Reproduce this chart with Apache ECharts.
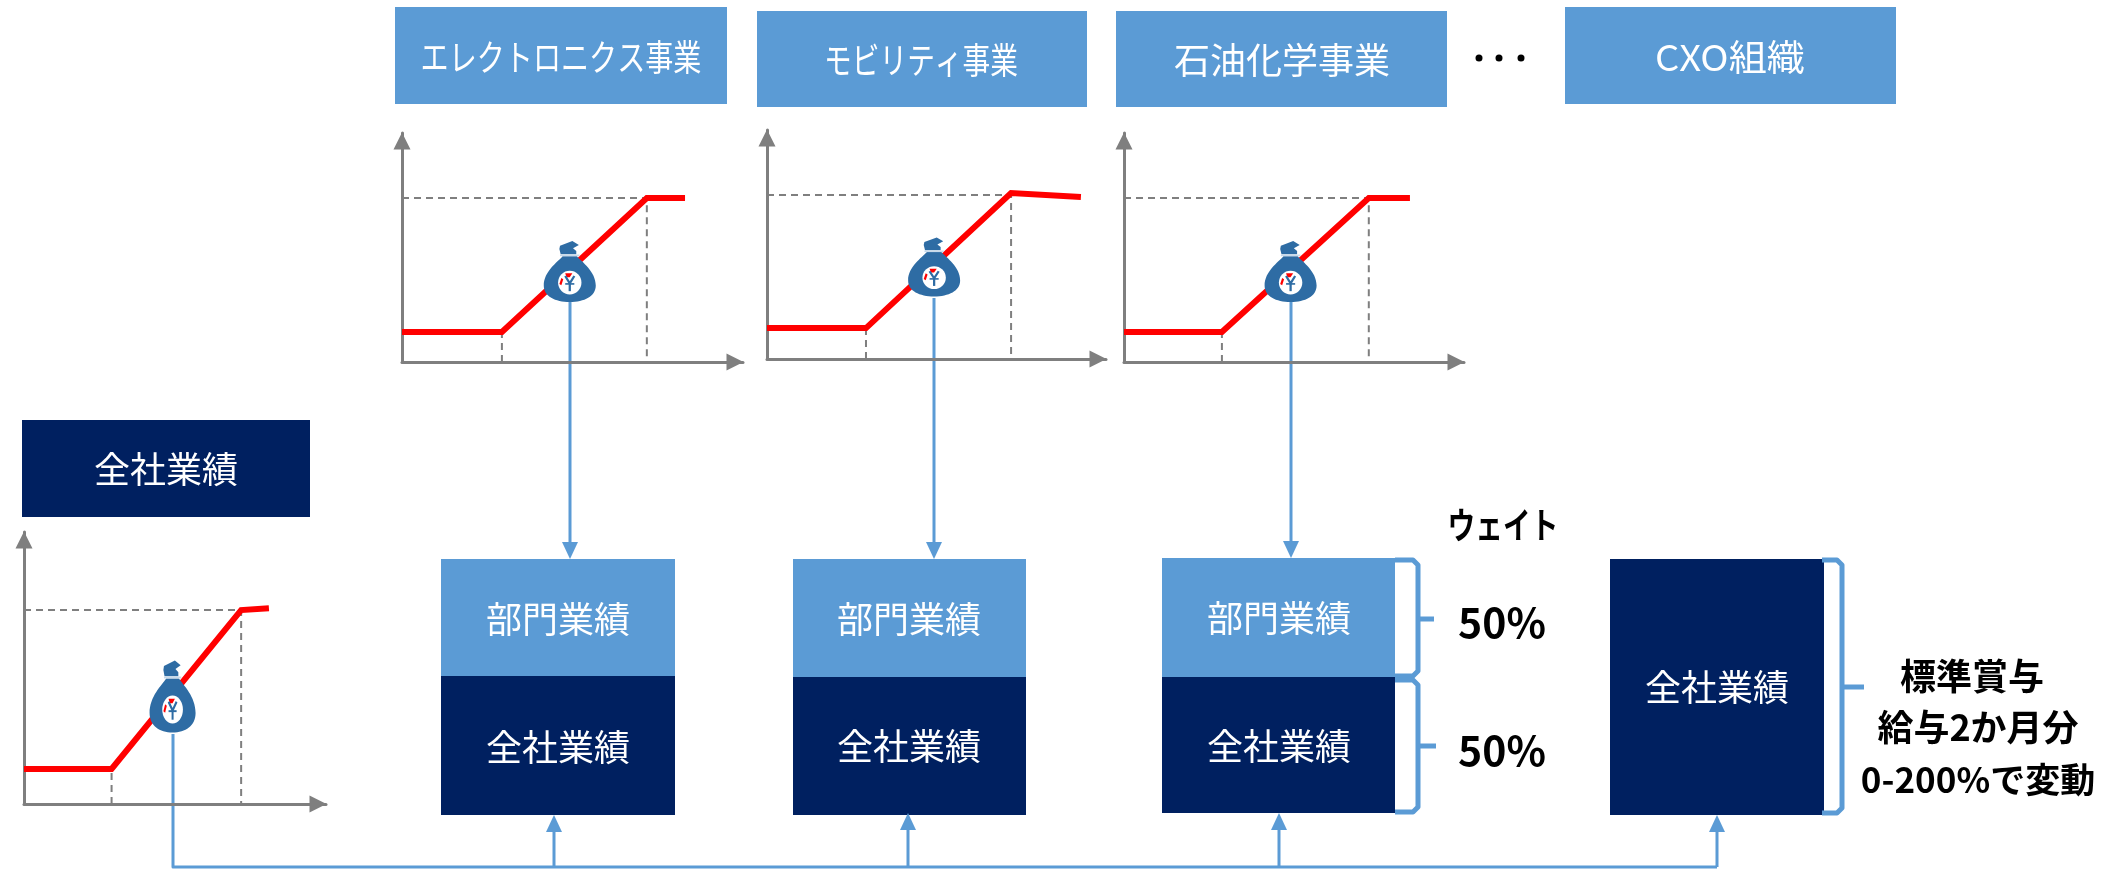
<!DOCTYPE html>
<html lang="ja">
<head>
<meta charset="utf-8">
<title>賞与決定の仕組み</title>
<style>
  html, body { margin: 0; padding: 0; background: #ffffff; }
  #chart { width: 2118px; height: 869px; }
</style>
<script src="https://cdn.jsdelivr.net/npm/echarts@6/dist/echarts.min.js"></script>
</head>
<body>
<div id="chart"></div>
<script>
// Payout curves: [performance, payout], both on a 0-100 relative scale.
const electronicsCurve = [[0, 13.1], [29.3, 13.1], [71.8, 71.6], [83.0, 71.6]];
const mobilityCurve    = [[0, 13.5], [29.2, 13.5], [72.0, 72.5], [92.6, 70.7]];
const chemicalsCurve   = [[0, 13.1], [28.8, 13.1], [72.0, 71.6], [84.1, 71.6]];
const companyCurve     = [[0, 12.9], [29.0, 12.9], [71.9, 71.3], [81.1, 72.0]];

// Target payout level of each curve, drawn as the dashed guide.
const targetLevels = [71.6, 71.6, 71.6, 71.3];

// Where the money bag sits on each curve.
const bagPoints = [[49.2, 39.5], [49.3, 40.2], [49.0, 39.5], [49.2, 39.5]];

// Labels
const divisionLabels = ['エレクトロニクス事業', 'モビリティ事業', '石油化学事業', 'CXO組織'];
const companyLabel = '全社業績';
const divisionResultLabel = '部門業績';
const weightTitle = 'ウェイト';
const weightLabels = ['50%', '50%'];
const bonusLabels = ['標準賞与', '給与2か月分', '0-200%で変動'];

// Layout and palette
const NAVY = '#002060', SKY = '#5B9BD5', GREY = '#7F7F7F', BAG = '#2E6CA4', RED = '#FF0000';
const FONT = '"Noto Sans CJK JP", "Noto Sans", sans-serif';

const plotFrames = [
  { left: 402,  top: 133, width: 341, height: 229, bag: [52, 61] },
  { left: 767,  top: 130, width: 339, height: 229, bag: [52, 59] },
  { left: 1124, top: 133, width: 340, height: 229, bag: [52, 61] },
  { left: 24,   top: 532, width: 302, height: 272, bag: [46, 72] }
];
const curves = [electronicsCurve, mobilityCurve, chemicalsCurve, companyCurve];

const headerBoxes = [
  { x: 395,  y: 7,  w: 332, h: 97, tx: 561,  ty: 57, scaleX: 0.78 },
  { x: 757,  y: 11, w: 330, h: 96, tx: 921,  ty: 60, scaleX: 0.77 },
  { x: 1116, y: 11, w: 331, h: 96, tx: 1282, ty: 60, scaleX: 1 },
  { x: 1565, y: 7,  w: 331, h: 97, tx: 1730, ty: 57, scaleX: 1.06 }
];
const stackBoxes = [
  { x: 441,  w: 234, top: 559, split: 676, bottom: 815, cx: 558,  ty1: 619, ty2: 747 },
  { x: 793,  w: 233, top: 559, split: 677, bottom: 815, cx: 909,  ty1: 619, ty2: 746 },
  { x: 1162, w: 233, top: 558, split: 677, bottom: 813, cx: 1279, ty1: 618, ty2: 746 }
];

function rect(x, y, w, h, fill) {
  return { type: 'rect', shape: { x, y, width: w, height: h }, style: { fill }, silent: true };
}
function label(text, x, y, opts) {
  const o = opts || {};
  return {
    type: 'text', x, y, scaleX: o.scaleX || 1, z: 10, silent: true,
    style: {
      text, fill: o.fill || '#ffffff', align: 'center', verticalAlign: 'middle',
      textAlign: 'center', textVerticalAlign: 'middle',
      font: (o.bold ? 'bold ' : '') + (o.size || 36) + 'px ' + FONT
    }
  };
}
function wire(points, width) {
  return {
    type: 'polyline', shape: { points }, silent: true,
    style: { stroke: SKY, lineWidth: width || 3, fill: 'none', lineJoin: 'round' }
  };
}
function arrowHead(x, y, dir) {
  // dir 1 points down onto y, -1 points up onto y.
  return {
    type: 'polygon', silent: true,
    shape: { points: [[x, y], [x - 8, y - dir * 17], [x + 8, y - dir * 17]] },
    style: { fill: SKY }
  };
}
function bracket(xStart, xSpine, yTop, yBottom, yTick, xTick) {
  // Square bracket with clipped corners and a short tick pointing at its label.
  const r = 5;
  return [
    wire([[xStart, yTop], [xSpine - r, yTop], [xSpine, yTop + r],
          [xSpine, yBottom - r], [xSpine - r, yBottom], [xStart, yBottom]], 5),
    wire([[xSpine, yTick], [xTick, yTick]], 5)
  ];
}

// Money bag icon, drawn in a 160 x 185 box around the curve point.
const BAG_OUTLINE =
  'M58 46 L102 46 C118 64 160 92 160 135 C160 168 125 185 80 185 ' +
  'C35 185 0 168 0 135 C0 92 42 64 58 46 Z ' +
  'M50 14 L88 0 L108 12 L90 22 L100 30 L100 40 L52 40 L48 24 Z';

function renderBag(size) {
  return function (params, api) {
    const c = api.coord([api.value(0), api.value(1)]);
    return {
      type: 'group',
      x: c[0] - size[0] / 2,
      y: c[1] - size[1] / 2,
      scaleX: size[0] / 160,
      scaleY: size[1] / 185,
      children: [
        { type: 'path', shape: { pathData: BAG_OUTLINE, layout: 'cover', x: 0, y: 0, width: 160, height: 185 }, style: { fill: BAG } },
        { type: 'rect', shape: { x: 50, y: 41, width: 60, height: 5 }, style: { fill: '#C9DAEA' } },
        { type: 'circle', shape: { cx: 80, cy: 126, r: 36 }, style: { fill: '#ffffff' } },
        { type: 'polygon', shape: { points: [[66, 98], [88, 98], [80, 110], [70, 110]] }, style: { fill: RED } },
        { type: 'polygon', shape: { points: [[48, 130], [54, 112], [60, 116], [54, 134]] }, style: { fill: RED } },
        { type: 'polyline', shape: { points: [[66, 106], [80, 128], [94, 106]] }, style: { stroke: BAG, lineWidth: 7, fill: 'none' } },
        { type: 'polyline', shape: { points: [[80, 128], [80, 152]] }, style: { stroke: BAG, lineWidth: 7, fill: 'none' } },
        { type: 'polyline', shape: { points: [[66, 130], [94, 130]] }, style: { stroke: BAG, lineWidth: 5, fill: 'none' } }
      ]
    };
  };
}

const grids = [], xAxes = [], yAxes = [], series = [];
const axisBase = {
  type: 'value', min: 0, max: 100, interval: 100,
  axisTick: { show: false }, axisLabel: { show: false }, splitLine: { show: false },
  axisLine: {
    show: true, symbol: ['none', 'triangle'], symbolSize: [17, 17], symbolOffset: [0, -8],
    lineStyle: { color: GREY, width: 3 }
  }
};
const dashStyle = { color: GREY, width: 2, type: [7, 5] };

curves.forEach(function (curve, i) {
  const f = plotFrames[i];
  grids.push({ left: f.left, top: f.top, width: f.width, height: f.height, containLabel: false });
  xAxes.push(Object.assign({}, axisBase, { gridIndex: i }));
  yAxes.push(Object.assign({}, axisBase, { gridIndex: i }));

  const knee = curve[1], cap = curve[2], target = targetLevels[i];
  const common = {
    type: 'line', xAxisIndex: i, yAxisIndex: i, showSymbol: false, symbol: 'none',
    silent: true, animation: false, clip: false
  };
  series.push(Object.assign({}, common, {
    z: 2, lineStyle: dashStyle, data: [[0, target], [cap[0], target], [cap[0], 0]]
  }));
  series.push(Object.assign({}, common, {
    z: 2, lineStyle: dashStyle, data: [[knee[0], 0], [knee[0], knee[1]]]
  }));
  series.push(Object.assign({}, common, {
    z: 3, lineStyle: { color: RED, width: 6, join: 'miter' }, data: curve
  }));
  series.push({
    type: 'custom', xAxisIndex: i, yAxisIndex: i, z: 4, silent: true, animation: false,
    clip: false, renderItem: renderBag(f.bag), data: [bagPoints[i]]
  });
});

const graphics = [];

// Division headers and the "more divisions" dots
divisionLabels.forEach(function (text, i) {
  const b = headerBoxes[i];
  graphics.push(rect(b.x, b.y, b.w, b.h, SKY));
  graphics.push(label(text, b.tx, b.ty, { scaleX: b.scaleX }));
});
[1479, 1499, 1521].forEach(function (cx) {
  graphics.push({ type: 'circle', silent: true, shape: { cx, cy: 58, r: 3.5 }, style: { fill: '#000000' } });
});

// Company-wide header
graphics.push(rect(22, 420, 288, 97, NAVY));
graphics.push(label(companyLabel, 166, 469));

// Weighted stacks
stackBoxes.forEach(function (s) {
  graphics.push(rect(s.x, s.top, s.w, s.split - s.top, SKY));
  graphics.push(rect(s.x, s.split, s.w, s.bottom - s.split, NAVY));
  graphics.push(label(divisionResultLabel, s.cx, s.ty1));
  graphics.push(label(companyLabel, s.cx, s.ty2));
});
graphics.push(rect(1610, 559, 214, 256, NAVY));
graphics.push(label(companyLabel, 1717, 687));

// Connectors from the bags down to the stacks
[[570, 302, 559], [934, 298, 559], [1291, 302, 558]].forEach(function (c) {
  graphics.push(wire([[c[0], c[1]], [c[0], c[2] - 12]]));
  graphics.push(arrowHead(c[0], c[2], 1));
});

// Company-wide feed along the bottom edge
graphics.push(wire([[173, 734], [173, 867], [1717, 867]]));
[[554, 815], [908, 813], [1279, 813], [1717, 815]].forEach(function (c) {
  graphics.push(wire([[c[0], 867], [c[0], c[1] + 12]]));
  graphics.push(arrowHead(c[0], c[1], -1));
});

// Weight brackets
graphics.push.apply(graphics, bracket(1395, 1418, 560, 676, 619, 1434));
graphics.push.apply(graphics, bracket(1395, 1418, 680, 812, 746, 1436));
graphics.push.apply(graphics, bracket(1822, 1842, 560, 813, 687, 1864));

// Weight and bonus annotations
graphics.push(label(weightTitle, 1503, 525, { fill: '#000000', bold: true, size: 36, scaleX: 0.77 }));
graphics.push(label(weightLabels[0], 1502, 622, { fill: '#000000', bold: true, size: 41 }));
graphics.push(label(weightLabels[1], 1502, 750, { fill: '#000000', bold: true, size: 41 }));
graphics.push(label(bonusLabels[0], 1972, 676, { fill: '#000000', bold: true, size: 36 }));
graphics.push(label(bonusLabels[1], 1978, 727, { fill: '#000000', bold: true, size: 36 }));
graphics.push(label(bonusLabels[2], 1978, 780, { fill: '#000000', bold: true, size: 35 }));

const chart = echarts.init(document.getElementById('chart'), null, { renderer: 'canvas' });
chart.setOption({
  backgroundColor: '#ffffff',
  animation: false,
  grid: grids,
  xAxis: xAxes,
  yAxis: yAxes,
  series: series,
  graphic: { elements: graphics }
});
</script>
</body>
</html>
